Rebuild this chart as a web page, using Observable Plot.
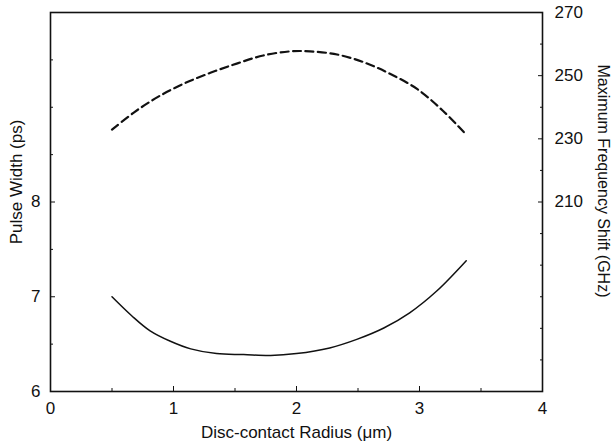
<!DOCTYPE html>
<html>
<head>
<meta charset="utf-8">
<script src="https://cdn.jsdelivr.net/npm/d3@7"></script>
<script src="https://cdn.jsdelivr.net/npm/@observablehq/plot@0.6"></script>
<style>
  html, body { margin: 0; padding: 0; background: #fff; }
</style>
</head>
<body>
<div id="chart"></div>
<script>
// Pulse width (left axis, ps) vs disc-contact radius (µm)
const radiusPW = [0.5, 0.66, 0.81, 0.975, 1.14, 1.35, 1.57, 1.79, 2.0, 2.27, 2.49, 2.71, 2.92, 3.14, 3.38];
const pulseWidth = [7.0, 6.80, 6.64, 6.53, 6.45, 6.40, 6.39, 6.38, 6.40, 6.46, 6.55, 6.67, 6.83, 7.06, 7.38];

// Maximum frequency shift (right axis, GHz) vs disc-contact radius (µm)
const radiusFS = [0.5, 0.68, 0.87, 1.08, 1.30, 1.52, 1.73, 1.95, 2.11, 2.33, 2.55, 2.76, 2.98, 3.19, 3.38];
const freqShift = [232.9, 238.4, 243.2, 247.4, 250.9, 253.9, 256.4, 257.7, 257.7, 256.7, 254.2, 250.6, 245.8, 238.9, 231.3];

// Axis ticks
const xMajor = [0, 1, 2, 3, 4];
const xMinor = [0.5, 1.5, 2.5, 3.5];
const leftMajor = [6, 7, 8];
const leftMinor = [6.5, 7.5, 8.5, 9, 9.5];
const rightMajor = [270, 250, 230, 210];
const rightMinor = [260, 240, 220, 200, 190, 180, 170, 160];

const xTitle = "Disc-contact Radius (\u03bcm)";
const leftTitle = "Pulse Width (ps)";
const rightTitle = "Maximum Frequency Shift (GHz)";

// right axis (GHz 150..270) mapped onto left scale (ps 6..10)
const ghzToLeft = g => 6 + (g - 150) / 30;

const pw = radiusPW.map((r, i) => ({r, v: pulseWidth[i]}));
const fs = radiusFS.map((r, i) => ({r, v: freqShift[i]}));

const font = "Liberation Sans, Arial, Helvetica, sans-serif";

const chart = Plot.plot({
  width: 613,
  height: 445,
  marginLeft: 50,
  marginRight: 71,
  marginTop: 12,
  marginBottom: 54,
  style: {fontFamily: font, fontSize: "17px", color: "#111", background: "#fff"},
  x: {domain: [0, 4]},
  y: {domain: [6, 10]},
  marks: [
    // tick marks (inward)
    Plot.axisX(xMajor, {tickSize: -5, tickFormat: () => "", label: null, stroke: "#111"}),
    Plot.axisX(xMinor, {tickSize: -3, tickFormat: () => "", label: null, stroke: "#111"}),
    Plot.axisY(leftMajor, {tickSize: -5, tickFormat: () => "", label: null, stroke: "#111"}),
    Plot.axisY(leftMinor, {tickSize: -3, tickFormat: () => "", label: null, stroke: "#111"}),
    Plot.axisY(rightMajor.map(ghzToLeft), {anchor: "right", tickSize: -5, tickFormat: () => "", label: null, stroke: "#111"}),
    Plot.axisY(rightMinor.map(ghzToLeft), {anchor: "right", tickSize: -3, tickFormat: () => "", label: null, stroke: "#111"}),
    // tick labels
    Plot.axisX(xMajor, {tickSize: 0, tickPadding: 10, label: null, fontSize: 17, fill: "#111", tickFormat: d => String(d)}),
    Plot.axisY(leftMajor, {tickSize: 0, tickPadding: 10, label: null, fontSize: 17, fill: "#111", tickFormat: d => String(d)}),
    Plot.axisY(rightMajor.map(ghzToLeft), {anchor: "right", tickSize: 0, tickPadding: 12, label: null, fontSize: 17, fill: "#111",
      tickFormat: d => String(Math.round((d - 6) * 30 + 150))}),
    // frame
    Plot.frame({stroke: "#111", strokeWidth: 1.6}),
    // curves
    Plot.line(pw, {x: "r", y: "v", curve: "catmull-rom", stroke: "#111", strokeWidth: 1.5}),
    Plot.line(fs, {x: "r", y: d => ghzToLeft(d.v), curve: "catmull-rom", stroke: "#111", strokeWidth: 2.2, strokeDasharray: "8,4.5"}),
    // titles
    Plot.text([xTitle], {frameAnchor: "bottom", dy: 41, text: d => d, fontSize: 17, fill: "#111", lineAnchor: "middle", textAnchor: "middle"}),
    Plot.text([leftTitle], {frameAnchor: "left", dx: -34, dy: -20, rotate: -90, text: d => d, fontSize: 17, fill: "#111", lineAnchor: "middle", textAnchor: "middle"}),
    Plot.text([rightTitle], {frameAnchor: "right", dx: 61, dy: -21, rotate: 90, text: d => d, fontSize: 16, fill: "#111", lineAnchor: "middle", textAnchor: "middle"})
  ]
});
document.getElementById("chart").appendChild(chart);
</script>
</body>
</html>
